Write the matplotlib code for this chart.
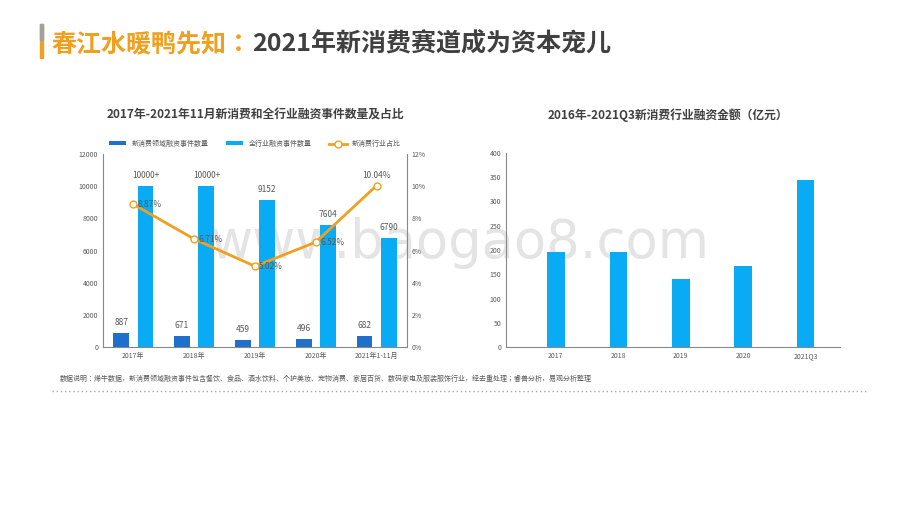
import matplotlib.pyplot as plt
from matplotlib import font_manager as fm
import numpy as np

cjk = sorted(set(f.name for f in fm.fontManager.ttflist if 'CJK' in f.name and 'Sans' in f.name))
fam = 'Noto Sans CJK SC' if 'Noto Sans CJK SC' in cjk else (cjk[0] if cjk else 'DejaVu Sans')
plt.rcParams['font.family'] = [fam, 'DejaVu Sans']

years = ['2017年', '2018年', '2019年', '2020年', '2021年1-11月']
new_cons = [887, 671, 459, 496, 682]
all_ind = [10000, 10000, 9152, 7604, 6790]
all_lbl = ['10000+', '10000+', '9152', '7604', '6790']
ratio = [8.87, 6.71, 5.02, 6.52, 10.04]

years2 = ['2017', '2018', '2019', '2020', '2021Q3']
amount = [195, 195, 140, 168, 344]

dark = '#1f6fcc'
light = '#0aabf5'
orange = '#f0a020'
gray = '#595959'

fig = plt.figure(figsize=(9.2, 5.18), dpi=100)

# header
fig.patches.append(plt.Rectangle((40/920, 1-58/518), 3/920, 34/518, transform=fig.transFigure, color=orange))
fig.patches.append(plt.Rectangle((40/920, 1-40/518), 3/920, 16/518, transform=fig.transFigure, color='#a0a0a0'))
t1 = fig.text(52/920, 1-44/518, '春江水暖鸭先知：', fontsize=18, fontweight='bold', color=orange, va='center')
fig.canvas.draw()
bb = t1.get_window_extent()
fig.text(bb.x1/920, 1-44/518, '2021年新消费赛道成为资本宠儿', fontsize=18, fontweight='bold', color='#404040', va='center')

# watermark, in a background axes so the charts draw on top of it
wm = fig.add_axes([0, 0, 1, 1], zorder=-1)
wm.axis('off')
wm.text(0.5, 1-243/518, 'www.baogao8.com', fontsize=38, color='#e4e4e4', ha='center', va='center',
        family='DejaVu Sans')

# left chart
ax = fig.add_axes([103/920, 1-347/518, 304/920, 193/518])
ax.patch.set_alpha(0)
x = np.arange(len(years))
w = 0.26
ax.bar(x - 0.2, new_cons, w, color=dark, label='新消费领域融资事件数量')
ax.bar(x + 0.2, all_ind, w, color=light, label='全行业融资事件数量')
for i in range(len(x)):
    ax.text(x[i] - 0.2, new_cons[i] + 500, str(new_cons[i]), ha='center', fontsize=6, color=gray)
    ax.text(x[i] + 0.2, all_ind[i] + 500, all_lbl[i], ha='center', fontsize=6, color=gray)
ax.set_ylim(0, 12000)
ax.set_yticks(range(0, 12001, 2000))
ax.set_xlim(-0.5, 4.5)
ax.set_xticks(x)
ax.set_xticklabels(years)
ax.tick_params(labelsize=5, colors=gray, length=0)
for s in ['top', 'right']:
    ax.spines[s].set_visible(False)
ax.spines['left'].set_color('#888888')
ax.spines['bottom'].set_color('#888888')
ax2 = ax.twinx()
ln, = ax2.plot(x, ratio, color=orange, lw=2, marker='o', mfc='white', ms=5, mew=1, label='新消费行业占比')
for i in range(len(x)):
    if i < 4:
        ax2.text(x[i] + 0.07, ratio[i], '%.2f%%' % ratio[i], fontsize=6, color=gray, va='center', ha='left')
    else:
        ax2.text(x[i], ratio[i] + 0.45, '%.2f%%' % ratio[i], fontsize=6, color=gray, ha='center')
ax2.set_ylim(0, 12)
ax2.set_yticks(range(0, 13, 2))
ax2.set_yticklabels(['%d%%' % v for v in range(0, 13, 2)])
ax2.tick_params(labelsize=5, colors=gray, length=0)
for s in ['top', 'left', 'bottom']:
    ax2.spines[s].set_visible(False)
ax2.spines['right'].set_color('#888888')
h1, l1 = ax.get_legend_handles_labels()
ax.legend(h1 + [ln], l1 + ['新消费行业占比'], loc='lower center', bbox_to_anchor=(0.5, 1.0), ncol=3,
          frameon=False, fontsize=5, handlelength=2.5, handleheight=0.5, columnspacing=2.5, labelcolor=gray)
fig.text(255/920, 1-115/518, '2017年-2021年11月新消费和全行业融资事件数量及占比', fontsize=8.5, fontweight='bold',
         color='#404040', ha='center', va='center')

# right chart
bx = fig.add_axes([506/920, 1-347/518, 334/920, 194/518])
bx.patch.set_alpha(0)
x2 = np.arange(len(years2))
bx.bar(x2, amount, 0.28, color=light)
bx.set_ylim(0, 400)
bx.set_yticks(range(0, 401, 50))
bx.set_xlim(-0.8, 4.55)
bx.set_xticks(x2)
bx.set_xticklabels(years2)
bx.tick_params(labelsize=5, colors=gray, length=0)
for s in ['top', 'right']:
    bx.spines[s].set_visible(False)
bx.spines['left'].set_color('#888888')
bx.spines['bottom'].set_color('#888888')
fig.text(668/920, 1-115/518, '2016年-2021Q3新消费行业融资金额（亿元）', fontsize=8.5, fontweight='bold',
         color='#404040', ha='center', va='center')

fig.text(60/920, 1-379/518, '数据说明：烯牛数据，新消费领域融资事件包含餐饮、食品、酒水饮料、个护美妆、宠物消费、家居百货、数码家电及服装服饰行业，经去重处理；睿兽分析，易观分析整理',
         fontsize=5, color=gray, va='center')
fig.add_artist(plt.Line2D([52/920, 868/920], [1-391/518, 1-391/518], color='#aaaaaa', lw=1, ls=(0, (1, 2))))

fig.savefig('out.png', dpi=100)
